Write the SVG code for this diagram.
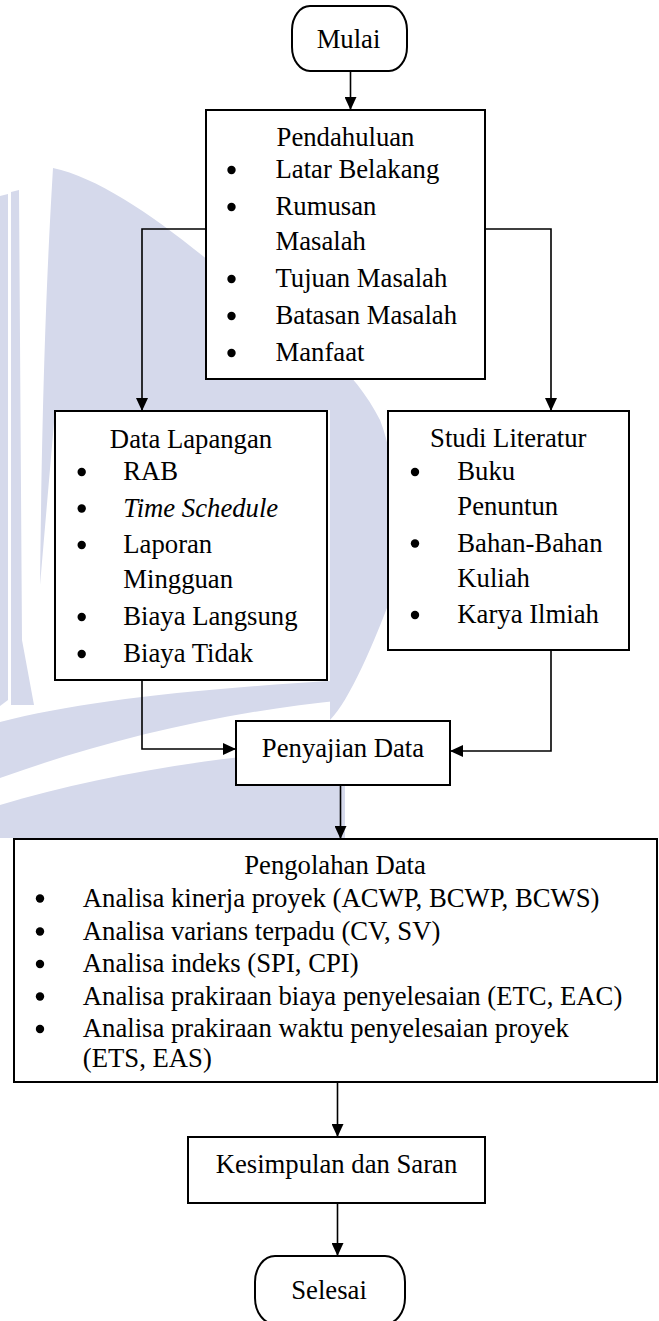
<svg xmlns="http://www.w3.org/2000/svg" width="659" height="1321" viewBox="0 0 659 1321">
<style>
  .box { fill: #ffffff; stroke: #000000; stroke-width: 2; }
  .term { fill: #ffffff; stroke: #000000; stroke-width: 2; }
  .t { font-family: "Liberation Serif", Tinos, "Times New Roman", Times, "DejaVu Serif", serif; font-size: 26.7px; fill: #000000; }
  .c { text-anchor: middle; }
  .i { font-style: italic; }
  .b { fill: #000000; }
  .conn { fill: none; stroke: #000000; stroke-width: 1.6; }
  .wm { fill: #d5d9eb; stroke: none; }
</style>
<defs>
  <marker id="arrow" viewBox="0 0 13 12" refX="13" refY="6" markerWidth="13" markerHeight="12" markerUnits="userSpaceOnUse" orient="auto">
    <path d="M0,0 L13,6 L0,12 Z" fill="#000000"/>
  </marker>
</defs>
<rect x="0" y="0" width="659" height="1321" fill="#ffffff"/>
<g id="watermark">
  <path class="wm" d="M0,196 L8,194 L8,700 L0,706 Z"/>
  <path class="wm" d="M11,192 L19,190 L22,640 L34,705 L11,705 Z"/>
  <path class="wm" d="M53,168 C100,178 160,220 220,270 C290,320 350,360 380,420 C400,470 400,560 390,600 C375,640 350,700 330,720 L330,410 L55,411 L40,585 C42,420 45,300 53,168 Z"/>
  <path class="wm" d="M0,722 C80,702 180,690 345,680 L345,700 C220,712 100,742 0,778 Z"/>
  <path class="wm" d="M0,805 C100,775 220,755 345,748 L345,838 L0,838 Z"/>
</g>
<g id="connectors">
  <path class="conn" d="M350.5,71 V110" marker-end="url(#arrow)"/>
  <path class="conn" d="M206,229 H142 V411" marker-end="url(#arrow)"/>
  <path class="conn" d="M485,229 H551 V411" marker-end="url(#arrow)"/>
  <path class="conn" d="M142,680 V749 H236" marker-end="url(#arrow)"/>
  <path class="conn" d="M551,650 V751 H450" marker-end="url(#arrow)"/>
  <path class="conn" d="M340.5,785 V839" marker-end="url(#arrow)"/>
  <path class="conn" d="M337.5,1082 V1137" marker-end="url(#arrow)"/>
  <path class="conn" d="M337.5,1203 V1256" marker-end="url(#arrow)"/>
</g>
<g id="mulai">
  <rect class="term" x="292" y="6" width="115" height="65" rx="18" ry="24"/>
  <text class="t c" x="348.5" y="48">Mulai</text>
</g>
<g id="pendahuluan">
  <rect class="box" x="206" y="110" width="279" height="269"/>
  <text class="t c" x="345.5" y="146">Pendahuluan</text>
  <circle class="b" cx="231.5" cy="170" r="4.2"/>
  <text class="t" x="275.5" y="178">Latar Belakang</text>
  <circle class="b" cx="231.5" cy="207" r="4.2"/>
  <text class="t" x="275.5" y="215">Rumusan</text>
  <text class="t" x="275.5" y="250">Masalah</text>
  <circle class="b" cx="231.5" cy="279" r="4.2"/>
  <text class="t" x="275.5" y="287">Tujuan Masalah</text>
  <circle class="b" cx="231.5" cy="316" r="4.2"/>
  <text class="t" x="275.5" y="324">Batasan Masalah</text>
  <circle class="b" cx="231.5" cy="353" r="4.2"/>
  <text class="t" x="275.5" y="361">Manfaat</text>
</g>
<g id="data-lapangan">
  <rect class="box" x="55" y="411" width="272" height="269"/>
  <text class="t c" x="191" y="448">Data Lapangan</text>
  <circle class="b" cx="81.7" cy="472" r="4.2"/>
  <text class="t" x="123.3" y="480">RAB</text>
  <circle class="b" cx="81.7" cy="508.5" r="4.2"/>
  <text class="t i" x="123.3" y="516.5">Time Schedule</text>
  <circle class="b" cx="81.7" cy="545" r="4.2"/>
  <text class="t" x="123.3" y="553">Laporan</text>
  <text class="t" x="123.3" y="588">Mingguan</text>
  <circle class="b" cx="81.7" cy="617" r="4.2"/>
  <text class="t" x="123.3" y="625">Biaya Langsung</text>
  <circle class="b" cx="81.7" cy="654" r="4.2"/>
  <text class="t" x="123.3" y="662">Biaya Tidak</text>
</g>
<g id="studi-literatur">
  <rect class="box" x="388" y="411" width="241" height="239"/>
  <text class="t c" x="508.3" y="446.5">Studi Literatur</text>
  <circle class="b" cx="415" cy="472" r="4.2"/>
  <text class="t" x="457.3" y="480">Buku</text>
  <text class="t" x="457.3" y="515">Penuntun</text>
  <circle class="b" cx="415" cy="543.5" r="4.2"/>
  <text class="t" x="457.3" y="551.5">Bahan-Bahan</text>
  <text class="t" x="457.3" y="586.5">Kuliah</text>
  <circle class="b" cx="415" cy="615" r="4.2"/>
  <text class="t" x="457.3" y="623">Karya Ilmiah</text>
</g>
<g id="penyajian-data">
  <rect class="box" x="236" y="721" width="214" height="64"/>
  <text class="t c" x="343" y="756.5">Penyajian Data</text>
</g>
<g id="pengolahan-data">
  <rect class="box" x="14" y="839" width="643" height="243"/>
  <text class="t c" x="335" y="874">Pengolahan Data</text>
  <circle class="b" cx="40" cy="898.5" r="4.2"/>
  <text class="t" x="82.8" y="906.5">Analisa kinerja proyek (ACWP, BCWP, BCWS)</text>
  <circle class="b" cx="40" cy="931.5" r="4.2"/>
  <text class="t" x="82.8" y="939.5">Analisa varians terpadu (CV, SV)</text>
  <circle class="b" cx="40" cy="964" r="4.2"/>
  <text class="t" x="82.8" y="972">Analisa indeks (SPI, CPI)</text>
  <circle class="b" cx="40" cy="996.5" r="4.2"/>
  <text class="t" x="82.8" y="1004.5">Analisa prakiraan biaya penyelesaian (ETC, EAC)</text>
  <circle class="b" cx="40" cy="1029" r="4.2"/>
  <text class="t" x="82.8" y="1037">Analisa prakiraan waktu penyelesaian proyek</text>
  <text class="t" x="82.8" y="1067">(ETS, EAS)</text>
</g>
<g id="kesimpulan">
  <rect class="box" x="188" y="1137" width="297" height="66"/>
  <text class="t c" x="336.5" y="1172.5">Kesimpulan dan Saran</text>
</g>
<g id="selesai">
  <rect class="term" x="255" y="1256" width="150" height="68" rx="20" ry="26"/>
  <text class="t c" x="329" y="1299">Selesai</text>
</g>
</svg>
